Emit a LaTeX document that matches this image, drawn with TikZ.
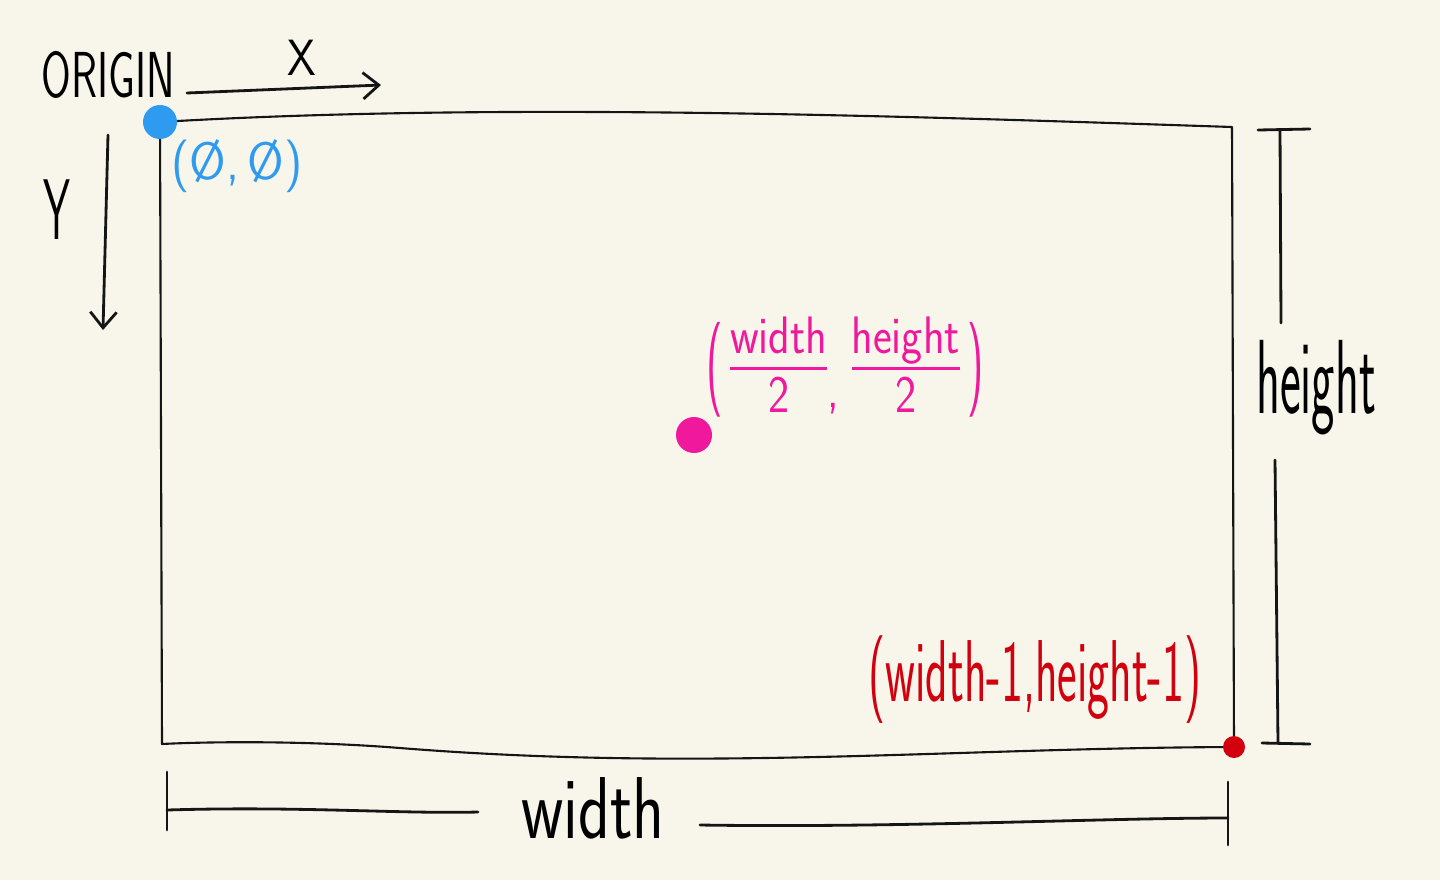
\documentclass[tikz,border=0pt]{standalone}
\usetikzlibrary{arrows.meta}
\definecolor{paper}{HTML}{F8F6EA}
\definecolor{inkblue}{HTML}{2E9BF0}
\definecolor{inkpink}{HTML}{F0189C}
\definecolor{inkred}{HTML}{D2000F}
\definecolor{inkblack}{HTML}{151515}
\newcommand{\handfrac}[1]{\begin{tabular}{@{}c@{}}#1\\[-1pt]\hline\rule{0pt}{24pt}2\end{tabular}}
\newcommand{\tallparen}[1]{\raisebox{-6pt}{\scalebox{1}[1.8]{#1}}}
\tikzset{
  ink/.style={line width=1.2pt, draw=inkblack, line cap=round, line join=round},
  axisarrow/.style={ink, line width=1.6pt, -{Straight Barb[length=9pt,width=15pt,line width=1.6pt]}},
  dimline/.style={ink, line width=1.6pt},
  label/.style={inner sep=0pt, font=\sffamily},
  dot/.style={circle, inner sep=0pt, fill=#1}
}
\begin{document}
\begin{tikzpicture}[x=0.02cm,y=-0.02cm]
\useasboundingbox[fill=paper] (0,0) rectangle (1440,880);

%frame
\coordinate (tl) at (160,122);
\coordinate (tr) at (1232,127);
\coordinate (br) at (1234,747);
\coordinate (bl) at (162,744);
\draw[ink] (tl) .. controls (500,102) and (900,116) .. (tr)
  -- (br) .. controls (950,748) and (700,772) .. (400,748)
  .. controls (300,740) and (200,742) .. (bl) -- cycle;

%corner dots
\node[dot=inkblue, minimum size=34*0.02cm] (origindot) at (tl) {};
\node[dot=inkpink, minimum size=36*0.02cm] (centerdot) at (694,435) {};
\node[dot=inkred, minimum size=22*0.02cm] (lastdot) at (br) {};

%labels
\node[label, font=\sffamily\fontsize{37}{37}\selectfont] (origin) at (108,75) {\scalebox{0.66}[1]{ORIGIN}};
\node[label, font=\sffamily\fontsize{29}{29}\selectfont] (xlab) at (302,58) {\scalebox{0.9}[1]{X}};
\node[label, font=\sffamily\fontsize{49}{49}\selectfont] (ylab) at (57,210) {\scalebox{0.5}[1]{Y}};
\node[label, text=inkblue, font=\sffamily\fontsize{30}{30}\selectfont] (zero) at (237,166) {\scalebox{0.95}[1]{(\O,\,\O)}};
\node[label, text=inkpink, font=\sffamily\fontsize{30}{30}\selectfont] (half) at (845,372)
  {\setlength{\arrayrulewidth}{1.6pt}\scalebox{0.85}[1]{\tallparen{(}\,\handfrac{width}\raisebox{-14pt}{,}\;\handfrac{height}\,\tallparen{)}}};
\node[label, text=inkred, font=\sffamily\fontsize{50}{50}\selectfont] (last) at (1035,680) {\scalebox{0.53}[1]{(width-1,height-1)}};

%axes
\coordinate (xs) at (187,93);
\coordinate (xe) at (381,85);
\draw[axisarrow] (xs) -- (xe);
\coordinate (ys) at (108,135);
\coordinate (ye) at (103,330);
\draw[axisarrow] (ys) -- (ye);

%width dimension
\node[label, font=\sffamily\fontsize{50}{50}\selectfont] (wlab) at (593,808) {\scalebox{0.75}[1]{width}};
\coordinate (wl) at (167,810);
\coordinate (wla) at (478,812);
\coordinate (wrb) at (700,825);
\coordinate (wr) at (1228,818);
\draw[dimline] (167,772) -- (167,830);
\draw[dimline] (1228,782) -- (1228,845);
\draw[dimline] (wl) .. controls (300,806) and (400,814) .. (wla);
\draw[dimline] (wrb) .. controls (900,828) and (1100,818) .. (wr);

%height dimension
\node[label, font=\sffamily\fontsize{60}{60}\selectfont] (hlab) at (1316,388) {\scalebox{0.47}[1]{height}};
\coordinate (ht) at (1280,130);
\coordinate (hta) at (1281,323);
\coordinate (hbb) at (1275,460);
\coordinate (hb) at (1278,743);
\draw[dimline] (1258,130) -- (1310,129);
\draw[dimline] (1262,743) -- (1310,744);
\draw[dimline] (ht) -- (hta);
\draw[dimline] (hbb) -- (hb);
\end{tikzpicture}
\end{document}
